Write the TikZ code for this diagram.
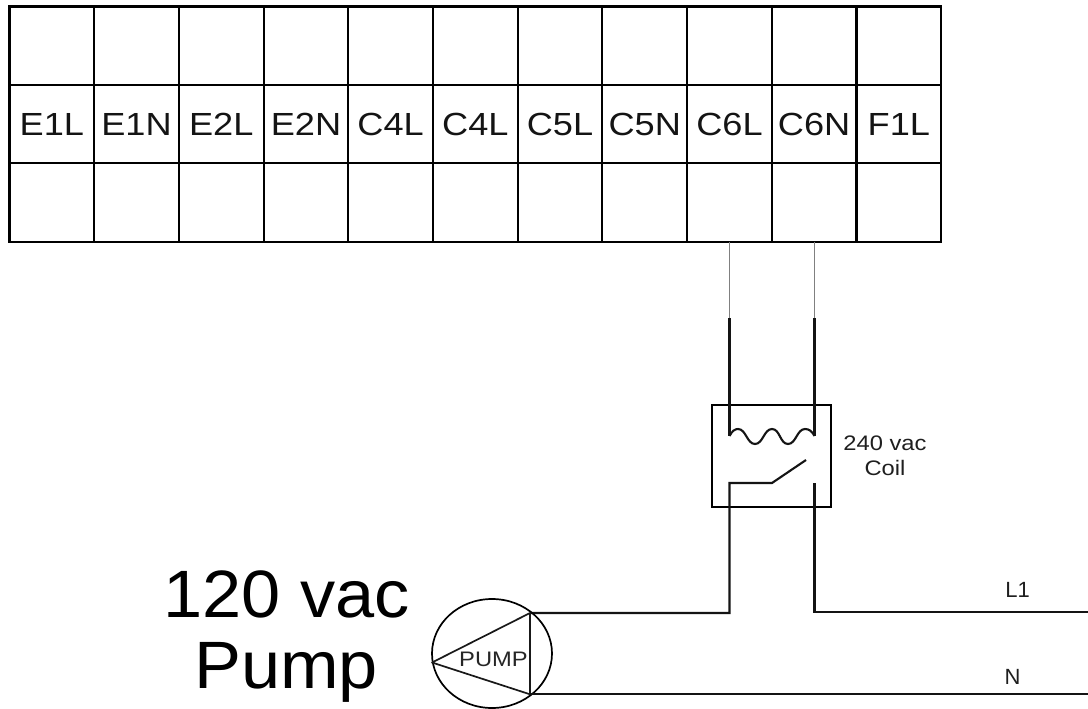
\documentclass[tikz,border=0pt]{standalone}
\usepackage{fontspec}
\usetikzlibrary{shapes.geometric}
\setmainfont{Liberation Sans}
\newfontfamily\wideA[FakeStretch=1.13]{Liberation Sans}
\newfontfamily\wideB[FakeStretch=1.05]{Liberation Sans}
\tikzset{
 cell/.style={draw=black,line width=2.05pt,minimum width=84.7pt,minimum height=78.4pt,inner sep=0pt,outer sep=0pt,font=\wideA\fontsize{32}{36}\selectfont,text=black!92},
 thick wire/.style={line width=2.1pt,black!92},
 thin wire/.style={line width=1.6pt,black!50},
 big/.style={inner sep=0pt,anchor=base,font=\wideB\fontsize{67}{70}\selectfont,text=black},
 small/.style={inner sep=0pt,font=\wideA\fontsize{21}{24.5}\selectfont,text=black!88,align=center},
}
\begin{document}
\begin{tikzpicture}[x=1pt,y=-1pt]
\useasboundingbox[fill=white] (0,0) rectangle (1088,709);
% terminal block
\def\labs{E1L,E1N,E2L,E2N,C4L,C4L,C5L,C5N,C6L,C6N,F1L}
\foreach \t [count=\i] in \labs {
  \node[cell] (a\i) at ({9.5+84.7*(\i-0.5)},45.7) {};
  \node[cell] (b\i) at ({9.5+84.7*(\i-0.5)},124) {\t};
  \node[cell] (c\i) at ({9.5+84.7*(\i-0.5)},202.4) {};
}
% relay
\node[draw=black,line width=2.05pt,minimum width=119pt,minimum height=102pt,inner sep=0pt,outer sep=0pt] (relay) at (771.75,456) {};
\coordinate (t1) at (729.5,318);
\coordinate (t2) at (814.5,318);
\coordinate (k1) at (729.5,436);
\coordinate (k2) at (814.5,436);
\coordinate (s1) at (729.5,483);
\coordinate (s2) at (772,483);
\coordinate (s3) at (806,460);
\coordinate (s4) at (814.5,483);
\coordinate (l1) at (1088,612.3);
\coordinate (nn) at (1088,694.3);
\draw[thin wire] (c9.south -| t1) -- (t1);
\draw[thin wire] (c10.south -| t2) -- (t2);
\draw[thick wire] (t1) -- (k1);
\draw[thick wire] (t2) -- (k2);
% coil
\draw[thick wire] (k1)
  .. controls (732,431) and (735,429) .. (738,429)
  .. controls (746,429) and (747,444) .. (755,444)
  .. controls (763,444) and (764,429) .. (772,429)
  .. controls (780,429) and (780,444) .. (788,444)
  .. controls (796,444) and (797,429) .. (805,429)
  .. controls (809,429) and (812,431) .. (k2);
% contact
\draw[thick wire,line join=miter] (s3) -- (s2) -- (s1) -- (729.5,613) -- (530,613);
\draw[thick wire] (s4) |- (l1);
% pump
\node[draw=black,line width=1.7pt,ellipse,minimum width=120pt,minimum height=109pt,inner sep=0pt,outer sep=0pt] (pump) at (492,653.5) {};
\coordinate (p1) at (432,662.5);
\coordinate (p2) at (530,613);
\coordinate (p3) at (530,694.3);
\draw[line width=1.7pt,black!90,line join=round] (p1) -- (p2) -- (p3) -- cycle;
\draw[thick wire] (p3) -- (nn);
\node[inner sep=0pt,font=\wideA\fontsize{21}{24}\selectfont,text=black!85] (pumpt) at (493.5,659) {PUMP};
% labels
\node[big] (t120) at (286.5,617) {120 vac};
\node[big] (tpump) at (286,688) {Pump};
\node[small] (coil) at (885,456) {240 vac\\Coil};
\node[small,font=\fontsize{22}{24}\selectfont] (tl1) at (1017.5,590) {L1};
\node[small,font=\fontsize{22}{24}\selectfont] (tn) at (1012.5,677) {N};
\end{tikzpicture}
\end{document}
